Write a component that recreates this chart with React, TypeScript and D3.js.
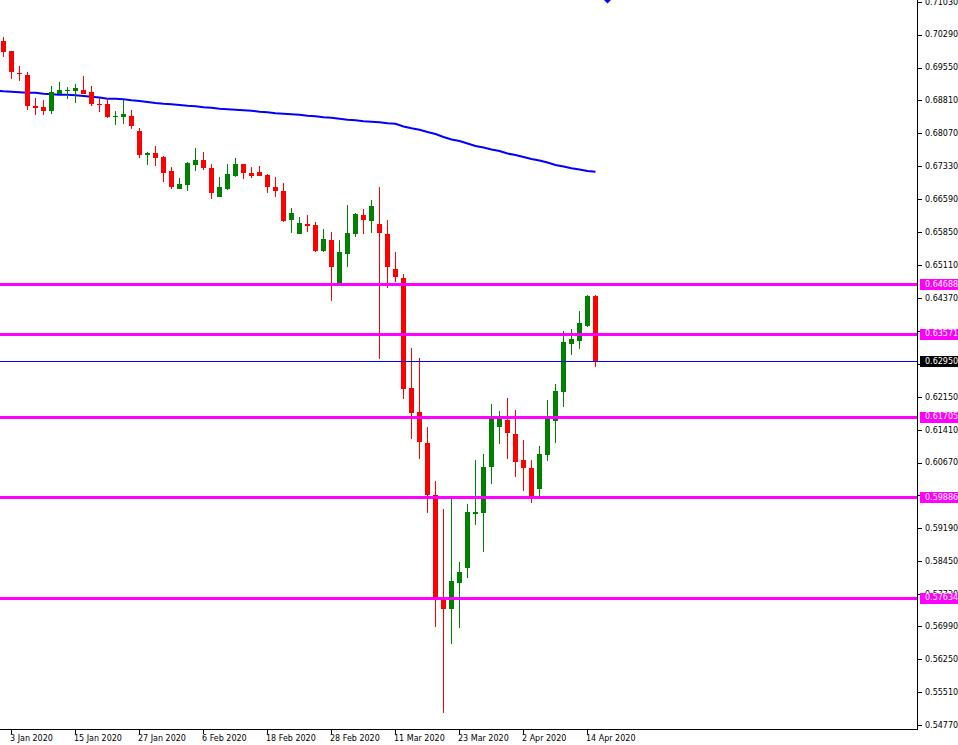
import * as d3 from 'd3';

// AUDUSD daily, 2 Jan 2020 .. 15 Apr 2020
const opens = [
  0.70146, 0.69922, 0.69427, 0.69382, 0.68678, 0.68663, 0.68580, 0.68962, 0.69029, 0.69029,
  0.69045, 0.69000, 0.68739, 0.68730, 0.68445, 0.68445, 0.68460, 0.68123, 0.67590, 0.67629,
  0.67539, 0.67224, 0.66819, 0.66916, 0.67359, 0.67471, 0.67291, 0.66646, 0.66819, 0.67118,
  0.67381, 0.67179, 0.67201, 0.67134, 0.66864, 0.66774, 0.66122, 0.65808, 0.66033, 0.66010,
  0.65426, 0.65673, 0.64706, 0.65358, 0.65808, 0.66235, 0.66100, 0.66033, 0.65808, 0.65021,
  0.64819, 0.62346, 0.61806, 0.61109, 0.59940, 0.57647, 0.57378, 0.57969, 0.58299, 0.59520,
  0.59543, 0.60570, 0.61476, 0.61626, 0.61312, 0.60727, 0.60547, 0.60082, 0.60846, 0.61611,
  0.62263, 0.63335, 0.63409, 0.63746, 0.64414,
];
const highs = [
  0.70236, 0.69930, 0.69584, 0.69449, 0.68865, 0.68820, 0.69135, 0.69225, 0.69112, 0.69180,
  0.69360, 0.69135, 0.68858, 0.68858, 0.68573, 0.68820, 0.68595, 0.68191, 0.67651, 0.67786,
  0.67561, 0.67321, 0.67067, 0.67426, 0.67741, 0.67651, 0.67381, 0.67089, 0.67381, 0.67516,
  0.67390, 0.67314, 0.67336, 0.67157, 0.67089, 0.66954, 0.66392, 0.66190, 0.66235, 0.66077,
  0.65920, 0.65853, 0.65673, 0.66460, 0.66280, 0.66370, 0.66572, 0.66864, 0.66122, 0.65403,
  0.64909, 0.63245, 0.63020, 0.61469, 0.60255, 0.59626, 0.59851, 0.58434, 0.59738, 0.60727,
  0.60862, 0.61986, 0.61829, 0.62121, 0.61851, 0.61177, 0.60727, 0.61042, 0.62076, 0.62436,
  0.63627, 0.63672, 0.64077, 0.64443, 0.64443,
];
const lows = [
  0.69787, 0.69299, 0.69254, 0.68589, 0.68490, 0.68490, 0.68512, 0.68950, 0.68843, 0.68759,
  0.68950, 0.68692, 0.68550, 0.68415, 0.68258, 0.68287, 0.68161, 0.67523, 0.67359, 0.67343,
  0.66983, 0.66826, 0.66810, 0.66781, 0.67231, 0.67246, 0.66601, 0.66640, 0.66797, 0.67096,
  0.67051, 0.67073, 0.67110, 0.66736, 0.66646, 0.66077, 0.65830, 0.65800, 0.65853, 0.65403,
  0.65403, 0.64302, 0.64700, 0.65073, 0.65740, 0.65808, 0.65830, 0.63007, 0.64594, 0.64729,
  0.62108, 0.61208, 0.60759, 0.59536, 0.56973, 0.55040, 0.56591, 0.56951, 0.58075, 0.59273,
  0.58659, 0.60194, 0.61087, 0.60750, 0.60345, 0.60030, 0.59767, 0.59895, 0.60712, 0.61116,
  0.61925, 0.63094, 0.63229, 0.63724, 0.62825,
];
const closes = [
  0.69899, 0.69456, 0.69405, 0.68692, 0.68647, 0.68580, 0.69000, 0.69045, 0.69040, 0.69090,
  0.68955, 0.68730, 0.68721, 0.68431, 0.68454, 0.68505, 0.68236, 0.67584, 0.67629, 0.67523,
  0.67186, 0.66871, 0.66932, 0.67397, 0.67471, 0.67291, 0.66736, 0.66864, 0.67157, 0.67381,
  0.67186, 0.67118, 0.67118, 0.66871, 0.66781, 0.66100, 0.66280, 0.66055, 0.65988, 0.65426,
  0.65695, 0.65066, 0.65403, 0.65830, 0.66257, 0.66122, 0.66437, 0.65841, 0.65066, 0.64830,
  0.62332, 0.61784, 0.61121, 0.59940, 0.57647, 0.57378, 0.58007, 0.58209, 0.59558, 0.59558,
  0.60570, 0.61655, 0.61655, 0.61341, 0.60689, 0.60554, 0.59895, 0.60862, 0.61655, 0.62278,
  0.63380, 0.63447, 0.63807, 0.64414, 0.62950,
];

// moving average (blue line); maLead is the bar just left of the window
const maLead = 0.69034;
const maValues = [
  0.69018, 0.69007, 0.68995, 0.68984, 0.68984, 0.68962, 0.68950, 0.68939, 0.68939, 0.68928,
  0.68910, 0.68894, 0.68876, 0.68849, 0.68849, 0.68836, 0.68813, 0.68798, 0.68775, 0.68753,
  0.68737, 0.68726, 0.68708, 0.68692, 0.68681, 0.68658, 0.68647, 0.68624, 0.68613, 0.68602,
  0.68591, 0.68580, 0.68557, 0.68546, 0.68523, 0.68512, 0.68501, 0.68490, 0.68467, 0.68456,
  0.68433, 0.68422, 0.68400, 0.68377, 0.68366, 0.68343, 0.68332, 0.68321, 0.68299, 0.68287,
  0.68224, 0.68184, 0.68152, 0.68101, 0.68056, 0.67988, 0.67932, 0.67898, 0.67842, 0.67786,
  0.67752, 0.67707, 0.67674, 0.67617, 0.67584, 0.67539, 0.67494, 0.67460, 0.67415, 0.67359,
  0.67325, 0.67285, 0.67258, 0.67224, 0.67208,
];

const dateLabels = [
  '3 Jan 2020', '15 Jan 2020', '27 Jan 2020', '6 Feb 2020', '18 Feb 2020',
  '28 Feb 2020', '11 Mar 2020', '23 Mar 2020', '2 Apr 2020', '14 Apr 2020',
];
const dateLabelBars = [1, 9, 17, 25, 33, 41, 49, 57, 65, 73];

// scale ticks; the ones that sit under the price boxes have no visible text
const priceTicks = [
  0.71030, 0.70290, 0.69550, 0.68810, 0.68070, 0.67330, 0.66590, 0.65850, 0.65110, 0.64370,
  0.63630, 0.62890, 0.62150, 0.61410, 0.60670, 0.59930, 0.59190, 0.58450, 0.57720, 0.56990,
  0.56250, 0.55510, 0.54770,
];
const hiddenTicks = [0.63630, 0.62890, 0.59930];

const levels = [0.64688, 0.63571, 0.61705, 0.59886, 0.57634];
const lastPrice = 0.62950;

const W = 958;
const H = 745;
const axisX = 917;
const axisY = 729;
const FONT = "Tahoma, 'DejaVu Sans', sans-serif";

export default function App() {
  const x = d3.scaleLinear().domain([0, 1]).range([3, 11]);
  const y = d3.scaleLinear().domain([0.5477, 0.7103]).range([725, 1.7]);
  const px = (i: number) => Math.round(x(i));

  const maLine = d3.line<number>()
    .x((d, i) => x(i - 1) + 0.5)
    .y(d => y(d));

  const bars = closes.map((c, i) => ({ o: opens[i], h: highs[i], l: lows[i], c, i }));

  return (
    <svg
      width={W}
      height={H}
      style={{ position: 'absolute', left: 0, top: 0, background: '#fff' }}
      fontFamily={FONT}
    >
      <rect x={0} y={0} width={W} height={H} fill="#fff" />

      {/* moving average */}
      <path d={maLine([maLead, ...maValues]) || ''} fill="none" stroke="#0000ff" strokeWidth={2} />

      {/* candles */}
      <g shapeRendering="crispEdges">
        {bars.map(b => {
          const col = b.c >= b.o ? '#008000' : '#ff0000';
          const cx = px(b.i);
          const top = Math.round(y(Math.max(b.o, b.c)));
          const bot = Math.round(y(Math.min(b.o, b.c)));
          return (
            <g key={b.i}>
              <rect x={cx} y={y(b.h)} width={1} height={y(b.l) - y(b.h)} fill={col} />
              <rect x={cx - 2} y={top} width={5} height={Math.max(1, bot - top)} fill={col} />
            </g>
          );
        })}
      </g>

      {/* horizontal levels */}
      <g shapeRendering="crispEdges">
        {levels.map(v => (
          <rect key={v} x={0} y={Math.round(y(v)) - 1} width={axisX} height={3} fill="#ff00ff" />
        ))}
        <rect x={0} y={Math.round(y(lastPrice))} width={axisX} height={1} fill="#0000ff" />
      </g>

      {/* axes */}
      <g shapeRendering="crispEdges">
        <line x1={axisX + 0.5} x2={axisX + 0.5} y1={0} y2={axisY + 1} stroke="#000" />
        <line x1={0} x2={axisX + 1} y1={axisY + 0.5} y2={axisY + 0.5} stroke="#000" />
        {priceTicks.map(v => (
          <line key={v} x1={axisX + 1} x2={axisX + 5} y1={Math.round(y(v)) + 0.5} y2={Math.round(y(v)) + 0.5} stroke="#000" />
        ))}
        {dateLabelBars.map(i => (
          <line key={i} x1={px(i) + 0.5} x2={px(i) + 0.5} y1={axisY + 1} y2={axisY + 5} stroke="#000" />
        ))}
      </g>

      {priceTicks.filter(v => !hiddenTicks.includes(v)).map(v => (
        <text key={v} x={925} y={y(v)} dy="0.36em" fontSize={8} fill="#000">
          {v.toFixed(5)}
        </text>
      ))}

      {dateLabels.map((t, k) => (
        <text key={t} x={px(dateLabelBars[k]) - 1} y={741} fontSize={8} fill="#000">
          {t}
        </text>
      ))}

      {/* price labels on the scale */}
      {levels.map(v => (
        <g key={v}>
          <rect x={920} y={Math.round(y(v)) - 5} width={38} height={11} fill="#ff00ff" shapeRendering="crispEdges" />
          <text x={925} y={y(v)} dy="0.36em" fontSize={8} fill="#fff">{v.toFixed(5)}</text>
        </g>
      ))}
      <rect x={920} y={Math.round(y(lastPrice)) - 5} width={38} height={11} fill="#000" shapeRendering="crispEdges" />
      <text x={925} y={y(lastPrice)} dy="0.36em" fontSize={8} fill="#fff">{lastPrice.toFixed(5)}</text>

      {/* chart shift marker */}
      <path d="M604,0 L611,0 L607.5,3.5 Z" fill="#0000ff" />
    </svg>
  );
}
